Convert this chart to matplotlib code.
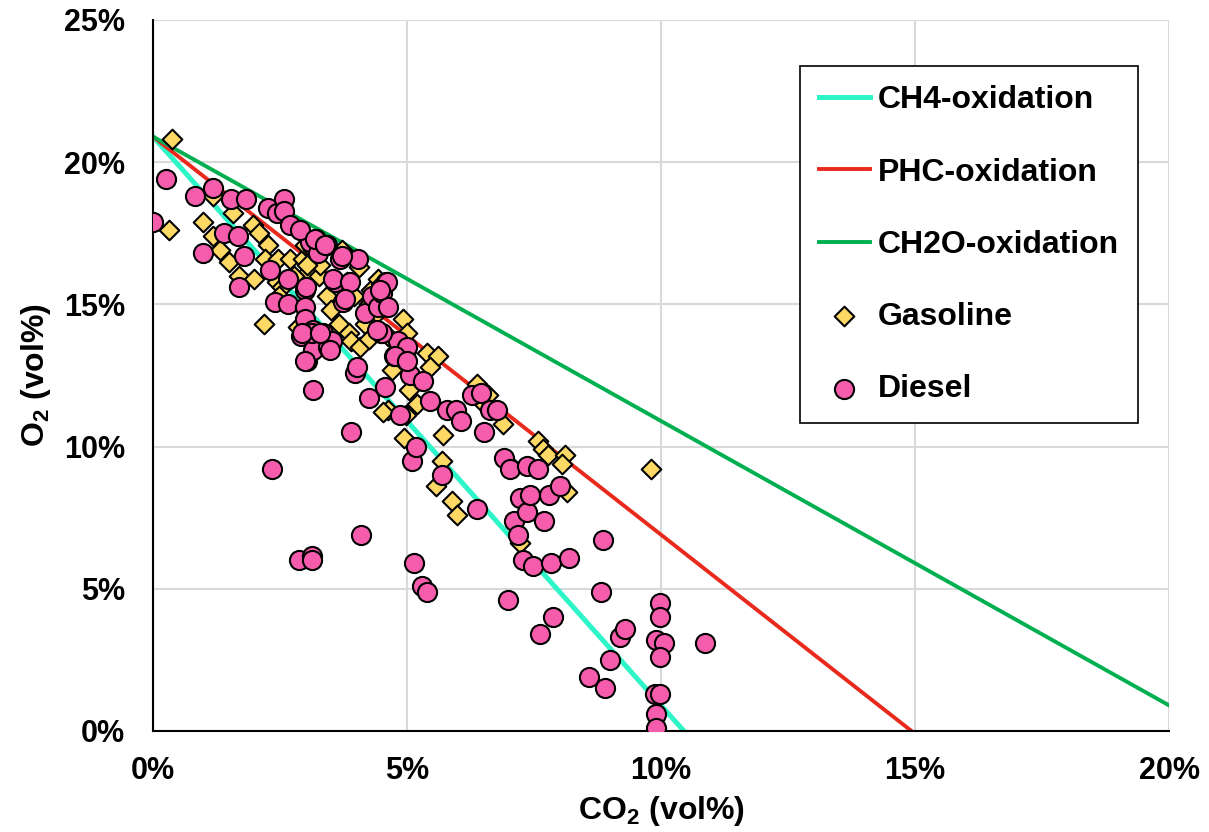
import matplotlib
matplotlib.use("Agg")
import matplotlib.pyplot as plt
import numpy as np

plt.rcParams['font.family'] = ['Liberation Sans', 'DejaVu Sans']
plt.rcParams['font.weight'] = 'bold'
plt.rcParams['mathtext.fontset'] = 'custom'
plt.rcParams['mathtext.rm'] = 'Liberation Sans:bold'
plt.rcParams['mathtext.bf'] = 'Liberation Sans:bold'

# oxidation lines: CO2 end points and O2 end points (vol%)
ch4_co2 = [0, 10.45]
ch4_o2 = [20.9, 0]
phc_co2 = [0, 14.93]
phc_o2 = [20.9, 0]
ch2o_co2 = [0, 20]
ch2o_o2 = [20.9, 0.9]

# Gasoline samples (CO2 %, O2 %)
gas_co2 = [0.37, 0.31, 0.98, 1.18, 1.57, 1.18, 1.32, 1.50, 1.69, 1.99, 1.97, 2.09,
           2.26, 2.20, 2.46, 2.44, 2.69, 2.95, 3.03, 3.27, 2.54, 2.48, 2.77, 3.00,
           3.15, 3.28, 3.03, 2.19, 3.42, 3.50, 3.81, 3.96, 3.66, 3.86, 3.90, 4.08,
           4.17, 4.29, 4.43, 4.49, 4.25, 4.45, 4.92, 5.00, 4.41, 4.63, 4.25, 5.40,
           5.61, 5.45, 5.09, 5.04, 4.94, 4.63, 4.98, 5.71, 5.69, 5.57, 5.89, 5.98,
           6.38, 6.46, 6.89, 7.58, 7.67, 7.78, 8.11, 8.05, 8.15, 7.22, 9.80, 4.06,
           3.72, 4.53, 3.37, 2.86, 6.60, 7.00, 5.20, 4.70]
gas_o2 = [20.8, 17.6, 17.9, 18.8, 18.2, 17.4, 16.9, 16.5, 16.0, 15.9, 17.8, 17.5,
          17.1, 16.6, 16.6, 15.8, 16.6, 16.6, 16.1, 16.0, 15.6, 15.3, 16.0, 17.1,
          16.9, 16.4, 16.4, 14.3, 15.3, 14.8, 15.8, 15.3, 14.3, 14.0, 13.7, 13.5,
          14.3, 15.5, 15.9, 15.7, 15.0, 14.9, 14.5, 14.0, 14.7, 13.9, 13.8, 13.3,
          13.2, 12.8, 12.5, 12.0, 10.3, 11.3, 11.1, 10.4, 9.5, 8.6, 8.1, 7.6,
          12.2, 11.6, 10.8, 10.2, 9.9, 9.7, 9.7, 9.4, 8.4, 6.6, 9.2, 16.3,
          16.9, 11.2, 13.8, 14.2, 11.8, 9.4, 11.5, 12.7]

# Diesel samples (CO2 %, O2 %)
die_co2 = [0.00, 0.26, 0.83, 0.98, 1.18, 1.40, 1.54, 1.67, 1.69, 1.79, 1.83, 2.26,
           2.30, 2.34, 2.40, 2.44, 2.58, 2.58, 2.66, 2.66, 2.70, 2.87, 2.91, 2.99,
           2.99, 2.99, 3.03, 3.09, 3.13, 3.13, 3.15, 3.15, 3.15, 3.21, 3.25, 3.43,
           3.44, 3.58, 3.68, 3.74, 3.90, 3.98, 4.04, 4.09, 4.17, 4.25, 4.31, 4.43,
           4.49, 4.57, 4.59, 4.74, 4.82, 4.86, 4.98, 5.06, 5.10, 5.14, 5.18, 5.30,
           5.31, 5.39, 5.45, 5.69, 5.79, 5.96, 6.06, 6.28, 6.38, 6.46, 6.52, 6.63,
           6.77, 6.91, 6.99, 7.03, 7.11, 7.19, 7.22, 7.28, 7.36, 7.36, 7.42, 7.48,
           7.58, 7.62, 7.70, 7.80, 7.83, 7.87, 8.01, 8.19, 8.58, 8.82, 8.86, 8.90,
           9.00, 9.19, 9.29, 9.90, 9.90, 9.88, 9.98, 9.98, 9.98, 9.90, 10.06, 9.98,
           10.87, 3.01, 2.89, 3.19, 3.39, 3.72, 3.54, 3.88, 3.78, 4.51, 4.61, 4.63,
           4.51, 3.13, 3.35, 3.52, 3.48, 5.00, 4.76, 5.00, 4.02, 2.93, 3.29, 2.99,
           4.41, 4.47]
die_o2 = [17.9, 19.4, 18.8, 16.8, 19.1, 17.5, 18.7, 17.4, 15.6, 16.7, 18.7, 18.4,
          16.2, 9.2, 15.1, 18.2, 18.7, 18.3, 15.9, 15.0, 17.8, 6.0, 13.9, 15.5,
          14.9, 14.5, 13.0, 17.2, 6.15, 6.0, 14.1, 12.0, 13.4, 17.3, 16.8, 17.1,
          13.5, 15.8, 16.6, 15.1, 10.5, 12.6, 16.6, 6.9, 14.7, 11.7, 15.3, 14.9,
          14.0, 12.1, 15.8, 13.2, 13.7, 11.1, 13.4, 12.5, 9.5, 5.9, 10.0, 5.1,
          12.3, 4.9, 11.6, 9.0, 11.3, 11.3, 10.9, 11.8, 7.8, 11.9, 10.5, 11.3,
          11.3, 9.6, 4.6, 9.2, 7.4, 6.9, 8.2, 6.0, 9.3, 7.7, 8.3, 5.8,
          9.2, 3.4, 7.4, 8.3, 5.9, 4.0, 8.6, 6.1, 1.9, 4.9, 6.7, 1.5,
          2.5, 3.3, 3.6, 0.6, 0.1, 1.3, 1.3, 4.5, 4.0, 3.2, 3.1, 2.6,
          3.1, 15.6, 17.6, 17.3, 17.1, 16.7, 15.9, 15.8, 15.2, 15.4, 15.8, 14.9,
          14.0, 14.0, 14.0, 13.7, 13.4, 13.5, 13.2, 13.0, 12.8, 14.0, 14.0, 13.0,
          14.1, 15.5]

fig = plt.figure(figsize=(12.09, 8.32), dpi=100)
ax = fig.add_axes([0.1265, 0.1214, 0.8405, 0.8546])

ax.plot(ch4_co2, ch4_o2, color='#2EF5C8', lw=3.6, label='CH4-oxidation', zorder=2)
ax.plot(phc_co2, phc_o2, color='#E8291C', lw=2.8, label='PHC-oxidation', zorder=2)
ax.plot(ch2o_co2, ch2o_o2, color='#00B050', lw=2.8, label='CH2O-oxidation', zorder=2)
ax.scatter(gas_co2, gas_o2, marker='D', s=100, facecolor='#FFD966', edgecolor='black',
           linewidths=1.5, label='Gasoline', zorder=3)
ax.scatter(die_co2, die_o2, marker='o', s=190, facecolor='#F65CAC', edgecolor='black',
           linewidths=1.5, label='Diesel', zorder=4)

ax.set_xlim(0, 20)
ax.set_ylim(0, 25)
ax.set_xticks(np.arange(0, 21, 5))
ax.set_yticks(np.arange(0, 26, 5))
ax.set_xticklabels([f'{v}%' for v in range(0, 21, 5)])
ax.set_yticklabels([f'{v}%' for v in range(0, 26, 5)])
ax.tick_params(axis='both', length=0, labelsize=22)
ax.tick_params(axis='x', pad=18)
ax.tick_params(axis='y', pad=20)
ax.grid(True, color='#D9D9D9', lw=1.5, zorder=0)
ax.set_axisbelow(True)
for s in ['top', 'right']:
    ax.spines[s].set_visible(False)
for s in ['left', 'bottom']:
    ax.spines[s].set_linewidth(1.5)
    ax.spines[s].set_color('black')

ax.set_xlabel(r'CO$_{\mathbf{2}}$ (vol%)', fontsize=23, fontweight='bold', labelpad=6)
ax.set_ylabel(r'O$_{\mathbf{2}}$ (vol%)', fontsize=23, fontweight='bold', labelpad=8)

leg = ax.legend(loc='upper right', bbox_to_anchor=(0.9695, 0.935), fontsize=23,
                frameon=True, fancybox=False, edgecolor='black', framealpha=1,
                labelspacing=1.32, handlelength=1.6, handletextpad=0.25,
                borderpad=0.6, borderaxespad=0)
leg.get_frame().set_linewidth(1.2)

fig.savefig('out.png', dpi=100)
